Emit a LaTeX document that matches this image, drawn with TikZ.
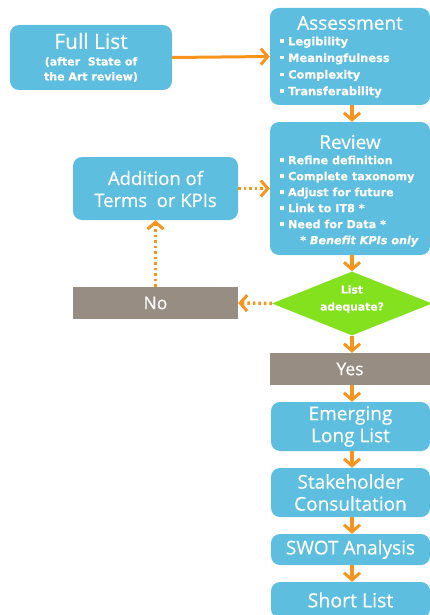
\documentclass[tikz,border=0pt]{standalone}
\usepackage{fontspec}
\setmainfont{Open Sans}[FakeBold=0.4]
\newfontfamily\bulletfont{DejaVu Sans}[FakeBold=0.2]
\usetikzlibrary{arrows.meta,shapes.geometric}
\definecolor{boxblue}{RGB}{94,190,224}
\definecolor{flowor}{RGB}{247,148,29}
\definecolor{taupe}{RGB}{152,141,130}
\definecolor{limegreen}{RGB}{132,225,30}
% small square bullet
\newcommand\sqbul{\rule[0.22em]{0.3em}{0.3em}\hspace{0.4em}}
\tikzset{
  bluebox/.style={draw=none,fill=boxblue,rounded corners=9pt,inner sep=0pt},
  greybox/.style={draw=none,fill=taupe,inner sep=0pt},
  title/.style={text=white,font=\fontsize{19}{22}\selectfont,align=center,inner sep=0pt},
  label/.style={text=white,font=\fontsize{17.5}{20}\selectfont,inner sep=0pt},
  small/.style={text=white,font=\bulletfont\bfseries\fontsize{11}{15}\selectfont,align=center,inner sep=0pt},
  bullets/.style={text=white,font=\bulletfont\bfseries\fontsize{11.4}{16.6}\selectfont,align=left,inner sep=0pt,anchor=north west},
  flow/.style={draw=flowor,line width=3.5pt,-{Straight Barb[length=7pt,width=16pt,line width=3pt]}},
  dotflow/.style={flow,dash pattern=on 2.5pt off 3pt},
}
\begin{document}
\begin{tikzpicture}[x=1pt,y=-1pt]
\useasboundingbox (0,0) rectangle (430,615);

% boxes
\node[bluebox,minimum width=162pt,minimum height=65pt] (full) at (91,57.5) {};
\node[bluebox,minimum width=160pt,minimum height=97pt] (assess) at (350,56.5) {};
\node[bluebox,minimum width=160pt,minimum height=133pt] (review) at (350,188.5) {};
\node[bluebox,minimum width=165pt,minimum height=63pt] (addition) at (155.5,188.5) {};
\node[greybox,minimum width=165pt,minimum height=32pt] (no) at (155.5,303) {};
\node[diamond,fill=limegreen,draw=none,inner sep=0pt,minimum width=160pt,minimum height=64pt] (check) at (352,303.5) {};
\node[greybox,minimum width=160pt,minimum height=32pt] (yes) at (350,369) {};
\node[bluebox,minimum width=159pt,minimum height=49pt] (emerging) at (350.5,426.5) {};
\node[bluebox,minimum width=159pt,minimum height=49pt] (stake) at (350.5,492.5) {};
\node[bluebox,minimum width=159pt,minimum height=31pt] (swot) at (350.5,549.5) {};
\node[bluebox,minimum width=159pt,minimum height=36pt] (short) at (350.5,600) {};

% texts
\node[title,font=\fontsize{21}{23}\selectfont] (fulltitle) at (91,41) {Full List};
\node[small] (fullsub) at (91,69.5) {(after\ \ State of\\the Art review)};
\node[title] (assesstitle) at (350,23) {Assessment};
\node[bullets] (assesslist) at (280,36.5) {%
  \sqbul Legibility\\
  \sqbul Meaningfulness\\
  \sqbul Complexity\\
  \sqbul Transferability};
\node[title] (reviewtitle) at (350,142) {Review};
\node[bullets,font=\bulletfont\bfseries\fontsize{11.2}{16}\selectfont] (reviewlist) at (280,155.5) {%
  \sqbul Refine definition\\
  \sqbul Complete taxonomy\\
  \sqbul Adjust for future\\
  \sqbul Link to IT8 *\\
  \sqbul Need for Data *\\
  \hspace{20pt}* \textit{Benefit KPIs only}};
\node[title,font=\fontsize{18.5}{22}\selectfont] (additiontext) at (155.5,189) {Addition of\\Terms\ \ or KPIs};
\node[label] (notext) at (155.5,303) {No};
\node[small,font=\bulletfont\bfseries\fontsize{10.8}{17}\selectfont] (checktext) at (352,299) {List\\adequate?};
\node[label] (yestext) at (350,369) {Yes};
\node[title] (emergingtext) at (350.5,426.5) {Emerging\\Long List};
\node[title] (staketext) at (350.5,492.5) {Stakeholder\\Consultation};
\node[title] (swottext) at (350.5,549.5) {SWOT Analysis};
\node[title,font=\fontsize{19.5}{22}\selectfont] (shorttext) at (350.5,600) {Short List};

% connectors
\draw[flow,line width=3pt] (full.east) -- (assess.west);
\draw[flow] ([xshift=2pt]assess.south) -- ([xshift=2pt]review.north);
\draw[flow] ([xshift=2pt]review.south) -- (check.north);
\draw[dotflow] (check.west) -- (no.east);
\draw[dotflow] (no.north) -- (addition.south);
\draw[dotflow] (addition.east) -- (review.west);
\draw[flow] (check.south) -- ([xshift=2pt]yes.north);
\draw[flow] ([xshift=2pt]yes.south) -- ([xshift=1.5pt]emerging.north);
\draw[flow] ([xshift=1.5pt]emerging.south) -- ([xshift=1.5pt]stake.north);
\draw[flow] ([xshift=1.5pt]stake.south) -- ([xshift=1.5pt]swot.north);
\draw[flow] ([xshift=1.5pt]swot.south) -- ([xshift=1.5pt]short.north);
\end{tikzpicture}
\end{document}
